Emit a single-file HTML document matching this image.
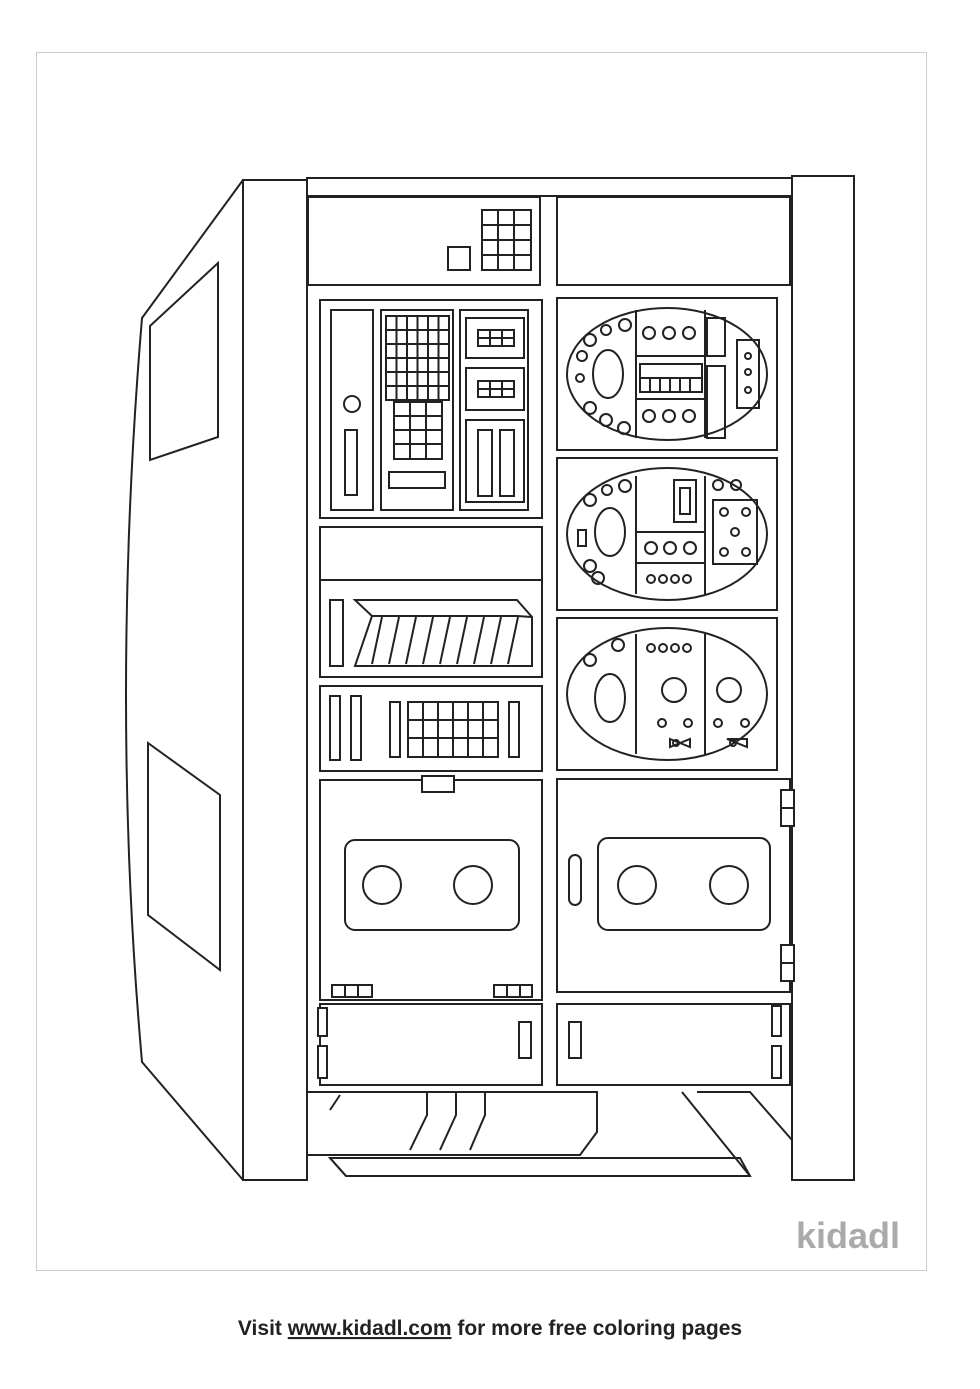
<!DOCTYPE html>
<html><head><meta charset="utf-8"><style>
html,body{margin:0;padding:0;background:#fff;}
svg{display:block}
</style></head><body>
<svg width="980" height="1389" viewBox="0 0 980 1389" xmlns="http://www.w3.org/2000/svg">
<rect x="0" y="0" width="980" height="1389" fill="#fff"/>
<rect x="36.5" y="52.5" width="890" height="1218" fill="none" stroke="#ccc" stroke-width="1"/>
<g fill="none" stroke="#222" stroke-width="2">
<!-- left slanted side -->
<path d="M243 180 L142 318 Q110 700 142 1062 L243 1180"/>
<polygon points="150,326 218,263 218,437 150,460"/>
<polygon points="148,743 220,795 220,970 148,915"/>
<!-- pillars -->
<rect x="243" y="180" width="64" height="1000"/>
<rect x="792" y="176" width="62" height="1004"/>
<rect x="307" y="178" width="485" height="18"/>
<!-- top panels -->
<rect x="308" y="197" width="232" height="88"/>
<rect x="557" y="197" width="233" height="88"/>
<rect x="482" y="210" width="49" height="60"/>
<path d="M498 210V270M514 210V270M482 225H531M482 240H531M482 255H531"/>
<rect x="448" y="247" width="22" height="23"/>
<!-- left panel 1 -->
<rect x="320" y="300" width="222" height="218"/>
<rect x="331" y="310" width="42" height="200"/>
<circle cx="352" cy="404" r="8"/>
<rect x="345" y="430" width="12" height="65"/>
<rect x="381" y="310" width="72" height="200"/>
<rect x="386" y="316" width="63" height="84"/>
<path d="M396.5 316V400M407 316V400M417.5 316V400M428 316V400M438.5 316V400M386 330H449M386 344H449M386 358H449M386 372H449M386 386H449"/>
<rect x="394" y="402" width="48" height="57"/>
<path d="M410 402V459M426 402V459M394 416H442M394 430H442M394 444H442"/>
<rect x="389" y="472" width="56" height="16"/>
<rect x="460" y="310" width="68" height="200"/>
<rect x="466" y="318" width="58" height="40"/>
<rect x="478" y="330" width="36" height="16"/>
<path d="M490 330V346M502 330V346M478 338H514"/>
<rect x="466" y="368" width="58" height="42"/>
<rect x="478" y="381" width="36" height="16"/>
<path d="M490 381V397M502 381V397M478 389H514"/>
<rect x="466" y="420" width="58" height="82"/>
<rect x="478" y="430" width="14" height="66"/>
<rect x="500" y="430" width="14" height="66"/>
<!-- left panel 2 -->
<rect x="320" y="527" width="222" height="150"/>
<path d="M320 580H542"/>
<rect x="330" y="600" width="13" height="66"/>
<polygon points="355,666 532,666 532,617 517,600 355,600 372,616 355,666"/>
<path d="M372 616H517L532 617"/>
<path d="M372 664L382 617M389 664L399 617M406 664L416 617M423 664L433 617M440 664L450 617M457 664L467 617M474 664L484 617M491 664L501 617M508 664L518 617"/>
<!-- left panel 3 -->
<rect x="320" y="686" width="222" height="85"/>
<rect x="330" y="696" width="10" height="64"/>
<rect x="351" y="696" width="10" height="64"/>
<rect x="390" y="702" width="10" height="55"/>
<rect x="509" y="702" width="10" height="55"/>
<rect x="408" y="702" width="90" height="55"/>
<path d="M423 702V757M438 702V757M453 702V757M468 702V757M483 702V757M408 720H498M408 738H498"/>
<!-- left panel 4 -->
<rect x="320" y="780" width="222" height="220"/>
<rect x="422" y="776" width="32" height="16" fill="#fff"/>
<rect x="345" y="840" width="174" height="90" rx="10"/>
<circle cx="382" cy="885" r="19"/>
<circle cx="473" cy="885" r="19"/>
<rect x="332" y="985" width="40" height="12" fill="#fff"/>
<path d="M345 985V997M358 985V997"/>
<rect x="494" y="985" width="38" height="12" fill="#fff"/>
<path d="M507 985V997M520 985V997"/>
<!-- left panel 5 -->
<rect x="320" y="1004" width="222" height="81"/>
<rect x="519" y="1022" width="12" height="36"/>
<rect x="318" y="1008" width="9" height="28" fill="#fff"/>
<rect x="318" y="1046" width="9" height="32" fill="#fff"/>
<!-- right oval panels -->
<rect x="557" y="298" width="220" height="152"/>
<rect x="557" y="458" width="220" height="152"/>
<rect x="557" y="618" width="220" height="152"/>
<ellipse cx="667" cy="374" rx="100" ry="66"/>
<ellipse cx="667" cy="534" rx="100" ry="66"/>
<ellipse cx="667" cy="694" rx="100" ry="66"/>
<!-- panel a details -->
<path d="M636 310V438M705 310V438M636 356H705M636 399H705"/>
<ellipse cx="608" cy="374" rx="15" ry="24"/>
<circle cx="582" cy="356" r="5"/><circle cx="590" cy="340" r="6"/><circle cx="606" cy="330" r="5"/><circle cx="625" cy="325" r="6"/>
<circle cx="580" cy="378" r="4"/><circle cx="590" cy="408" r="6"/><circle cx="606" cy="420" r="6"/><circle cx="624" cy="428" r="6"/>
<circle cx="649" cy="333" r="6"/><circle cx="669" cy="333" r="6"/><circle cx="689" cy="333" r="6"/>
<circle cx="649" cy="416" r="6"/><circle cx="669" cy="416" r="6"/><circle cx="689" cy="416" r="6"/>
<rect x="640" y="364" width="62" height="28"/>
<path d="M640 378H702M650 378V392M660 378V392M670 378V392M680 378V392M690 378V392"/>
<rect x="707" y="318" width="18" height="38"/>
<rect x="707" y="366" width="18" height="72"/>
<rect x="737" y="340" width="22" height="68"/>
<circle cx="748" cy="356" r="3"/><circle cx="748" cy="372" r="3"/><circle cx="748" cy="390" r="3"/>
<!-- panel b details -->
<path d="M636 476V594M705 476V594M636 532H705M636 563H705"/>
<ellipse cx="610" cy="532" rx="15" ry="24"/>
<circle cx="590" cy="500" r="6"/><circle cx="607" cy="490" r="5"/><circle cx="625" cy="486" r="6"/><circle cx="590" cy="566" r="6"/><circle cx="598" cy="578" r="6"/>
<rect x="578" y="530" width="8" height="16"/>
<rect x="674" y="480" width="22" height="42"/>
<rect x="680" y="488" width="10" height="26"/>
<circle cx="651" cy="548" r="6"/><circle cx="670" cy="548" r="6"/><circle cx="690" cy="548" r="6"/>
<circle cx="651" cy="579" r="4"/><circle cx="663" cy="579" r="4"/><circle cx="675" cy="579" r="4"/><circle cx="687" cy="579" r="4"/>
<circle cx="718" cy="485" r="5"/><circle cx="736" cy="485" r="5"/>
<rect x="713" y="500" width="44" height="64"/>
<circle cx="724" cy="512" r="4"/><circle cx="746" cy="512" r="4"/><circle cx="735" cy="532" r="4"/><circle cx="724" cy="552" r="4"/><circle cx="746" cy="552" r="4"/>
<!-- panel c details -->
<path d="M636 634V754M705 634V754"/>
<ellipse cx="610" cy="698" rx="15" ry="24"/>
<circle cx="590" cy="660" r="6"/><circle cx="618" cy="645" r="6"/>
<circle cx="651" cy="648" r="4"/><circle cx="663" cy="648" r="4"/><circle cx="675" cy="648" r="4"/><circle cx="687" cy="648" r="4"/>
<circle cx="674" cy="690" r="12"/><circle cx="729" cy="690" r="12"/>
<circle cx="662" cy="723" r="4"/><circle cx="688" cy="723" r="4"/><circle cx="718" cy="723" r="4"/><circle cx="745" cy="723" r="4"/>
<path d="M670 739L690 747V739L670 747Z"/><circle cx="676" cy="743" r="3"/>
<path d="M727 739L747 747V739Z"/><circle cx="733" cy="743" r="3"/>
<!-- right lower panels -->
<rect x="557" y="779" width="233" height="213"/>
<rect x="598" y="838" width="172" height="92" rx="10"/>
<circle cx="637" cy="885" r="19"/>
<circle cx="729" cy="885" r="19"/>
<rect x="569" y="855" width="12" height="50" rx="6"/>
<rect x="781" y="790" width="13" height="36" fill="#fff"/>
<path d="M781 808H794"/>
<rect x="781" y="945" width="13" height="36" fill="#fff"/>
<path d="M781 963H794"/>
<rect x="557" y="1004" width="233" height="81"/>
<rect x="569" y="1022" width="12" height="36"/>
<rect x="772" y="1006" width="9" height="30" fill="#fff"/>
<rect x="772" y="1046" width="9" height="32" fill="#fff"/>
<!-- bottom -->
<path d="M307 1092H597V1132L580 1155H307"/>
<polygon points="330,1158 740,1158 750,1176 346,1176"/>
<path d="M330 1158L346 1176"/>
<path d="M340 1095L330 1110M427 1092V1115L410 1150M456 1092V1115L440 1150M485 1092V1115L470 1150"/>
<path d="M682 1092L750 1176M697 1092H750L792 1140"/>
</g>
<text x="900" y="1248" text-anchor="end" font-family="Liberation Sans, sans-serif" font-size="36" font-weight="bold" fill="#aaa">kidadl</text>
<text x="490" y="1335" text-anchor="middle" font-family="Liberation Sans, sans-serif" font-size="21" font-weight="bold" fill="#222">Visit <tspan text-decoration="underline">www.kidadl.com</tspan> for more free coloring pages</text>
</svg>
</body></html>
